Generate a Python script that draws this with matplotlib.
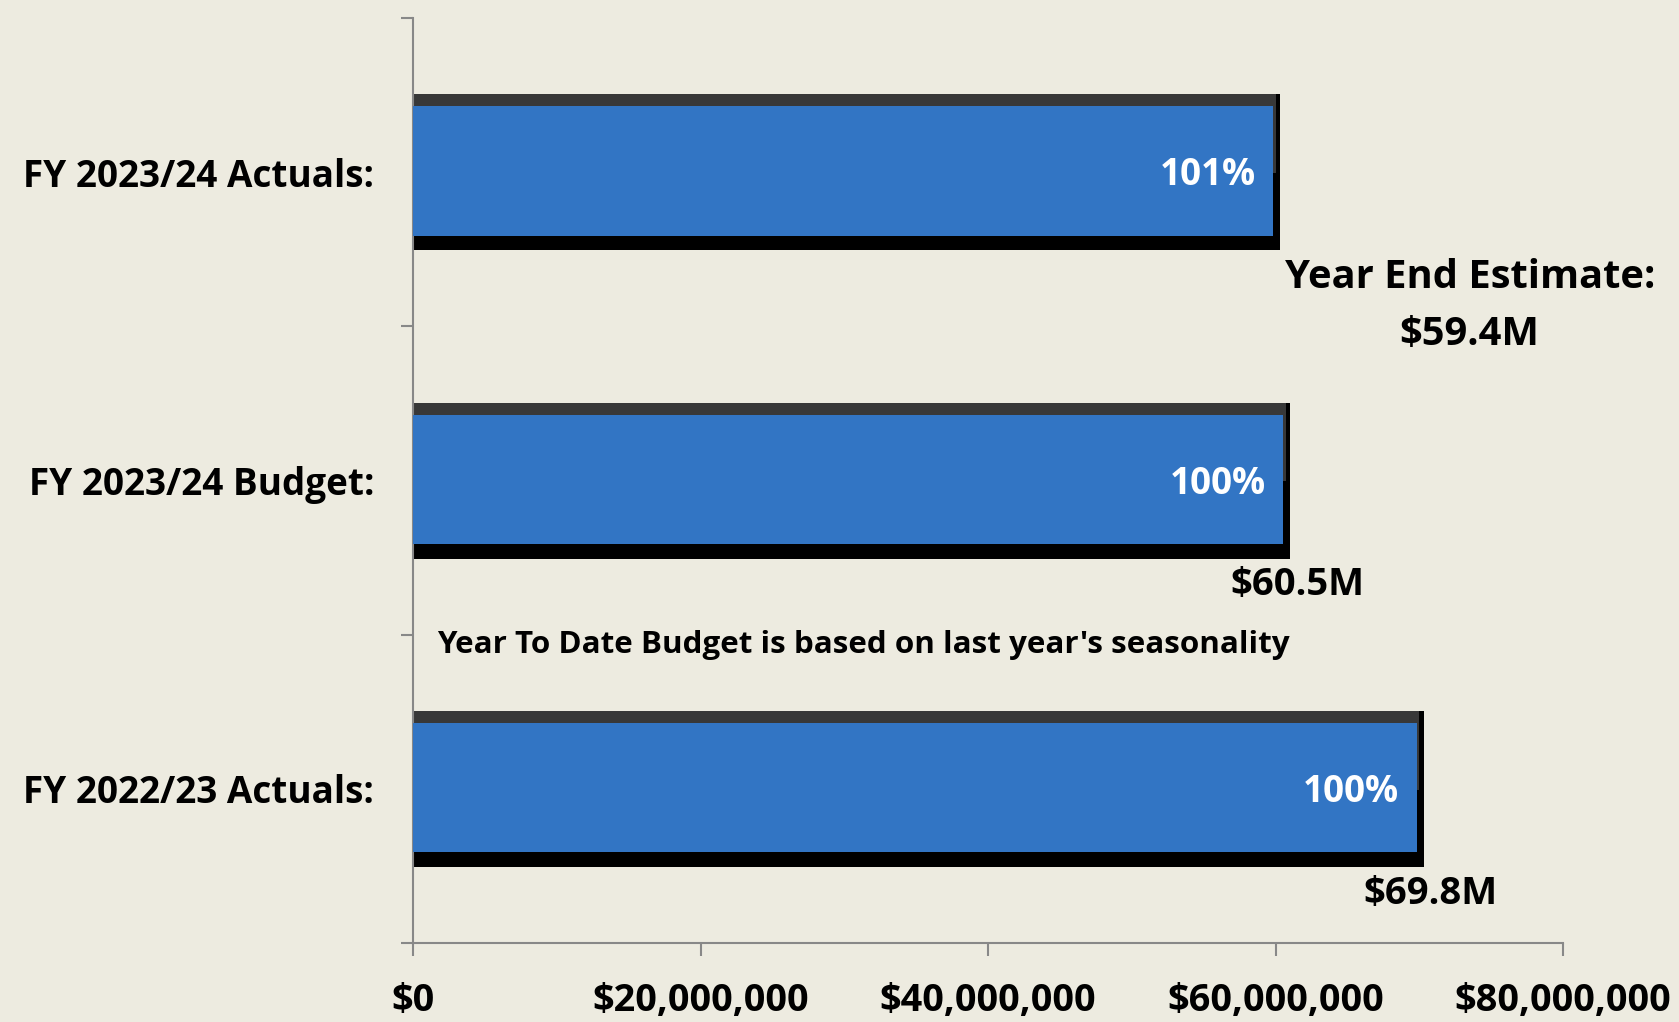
import matplotlib.pyplot as plt
from matplotlib.ticker import FuncFormatter

categories = ["FY 2022/23 Actuals:", "FY 2023/24 Budget:", "FY 2023/24 Actuals:"]
values = [69.8e6, 60.5e6, 59.8e6]
pct_labels = ["100%", "100%", "101%"]
end_labels = ["$69.8M", "$60.5M", None]
xticks = [0, 20e6, 40e6, 60e6, 80e6]

bg = "#EDEBE0"
blue = "#3275C4"
font = "Open Sans"

fig = plt.figure(figsize=(16.79, 10.22), dpi=100)
fig.patch.set_facecolor(bg)
ax = fig.add_axes([0.246, 0.0773, 0.685, 0.905])
ax.set_facecolor(bg)

ypos = list(range(len(categories)))

# bevelled bar: black base, dark grey top band, blue face
ax.barh(ypos, [v + 0.5e6 for v in values], height=0.506, color="black", zorder=2)
ax.barh([y + 0.125 for y in ypos], [v + 0.2e6 for v in values], height=0.256,
        color="#383838", zorder=2)
ax.barh([y + 0.004 for y in ypos], values, height=0.42, color=blue, zorder=3)

for y, v, p, e in zip(ypos, values, pct_labels, end_labels):
    ax.text(v - 1.2e6, y - 0.01, p, color="white", fontsize=26.5, fontweight="bold",
            family=font, ha="right", va="center", zorder=4)
    if e:
        ax.text(v + 1.0e6, y - 0.34, e, color="black", fontsize=27.5,
                fontweight="bold", family=font, ha="center", va="center")

ax.text(73.5e6, 1.565, "Year End Estimate:\n$59.4M", fontsize=28.7, fontweight="bold",
        family=font, ha="center", va="center", linespacing=1.6)
ax.text(1.7e6, 0.465, "Year To Date Budget is based on last year's seasonality",
        fontsize=22.6, fontweight="bold", family=font, ha="left", va="center")

ax.set_xlim(0, 80e6)
ax.set_ylim(-0.5, 2.5)
ax.set_xticks(xticks)
ax.xaxis.set_major_formatter(FuncFormatter(lambda x, _: "${:,.0f}".format(x)))
ax.set_yticks(ypos)
ax.set_yticklabels(categories)
ax.set_yticks([-0.5, 0.5, 1.5, 2.5], minor=True)
ax.tick_params(axis="y", which="major", length=0, pad=28)
ax.tick_params(axis="y", which="minor", length=9, color="#888888", width=1.5)
ax.tick_params(axis="x", length=9, color="#888888", width=1.5, pad=19)
for lab in ax.get_xticklabels():
    lab.set_family(font)
    lab.set_fontweight("bold")
    lab.set_fontsize(27.3)
for lab in ax.get_yticklabels():
    lab.set_family(font)
    lab.set_fontweight("bold")
    lab.set_fontsize(26.6)

for s in ["top", "right"]:
    ax.spines[s].set_visible(False)
for s in ["left", "bottom"]:
    ax.spines[s].set_color("#888888")
    ax.spines[s].set_linewidth(1.5)

fig.savefig("out.png", dpi=100, facecolor=bg)
